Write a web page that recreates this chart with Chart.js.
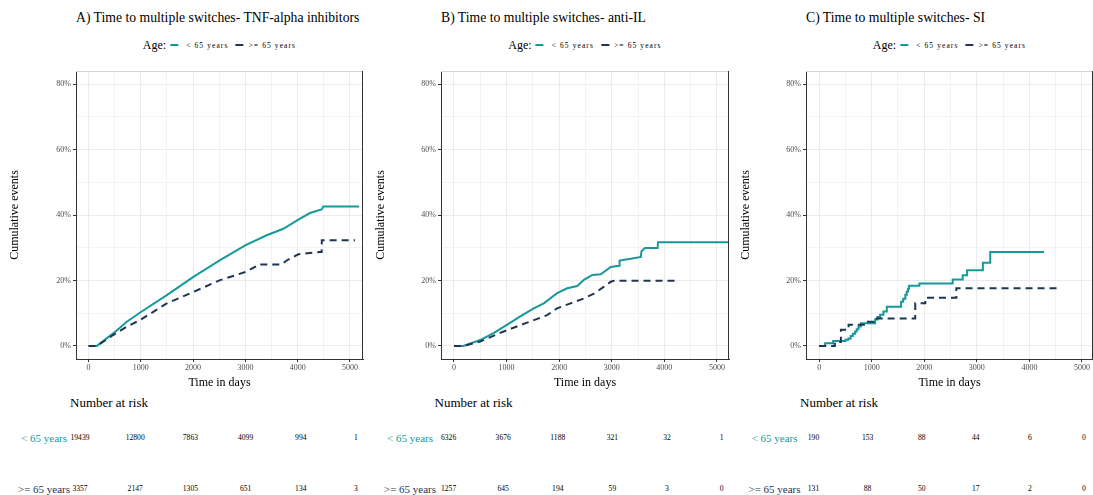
<!DOCTYPE html>
<html lang="en">
<head>
    <meta charset="UTF-8">
    <title>Time to multiple switches by age</title>
    <script src="https://cdn.jsdelivr.net/npm/chart.js"></script>
    <style>
        html, body { margin: 0; padding: 0; background: #fff; overflow: hidden; }
        body { width: 1093px; height: 495px; position: relative; font-family: "Liberation Serif", "Times New Roman", serif; color: #000; }
        canvas { position: absolute; top: 60px; }
        .txt { position: absolute; white-space: nowrap; line-height: 1; }
        .legend { position: absolute; top: 38px; height: 14px; display: flex; align-items: center; transform: translateX(-50%); white-space: nowrap; }
        .legend .age { font-size: 12px; margin-right: 4px; }
        .legend .key { width: 8px; height: 2px; margin-right: 8px; }
        .legend .lab { font-size: 7.5px; letter-spacing: 1.1px; margin-right: 7px; }
    </style>
</head>
<body>
    <canvas id="chartA" width="365" height="330" style="left:0px"></canvas>
    <canvas id="chartB" width="365" height="330" style="left:366px"></canvas>
    <canvas id="chartC" width="362" height="330" style="left:731px"></canvas>

    <script>
        // cumulative events (%), time in days
        const tnfYoungDays = [0, 160, 478, 732, 987, 1497, 2006, 2516, 3006, 3408, 3726, 4013, 4236, 4459, 4490, 5175];
        const tnfYoungPct  = [0, 0, 3.9, 7.4, 10.2, 15.5, 21.1, 26.2, 30.8, 33.8, 35.8, 38.6, 40.6, 41.7, 42.6, 42.6];
        const tnfOldDays = [0, 160, 478, 732, 987, 1497, 2006, 2516, 3006, 3217, 3250, 3694, 3790, 4013, 4427, 4459, 4462, 5096];
        const tnfOldPct  = [0, 0, 3.4, 5.9, 7.9, 13.0, 16.5, 20.1, 22.6, 24.4, 24.9, 24.9, 26.1, 28.0, 28.7, 28.7, 32.3, 32.3];

        const ilYoungDays = [0, 178, 497, 752, 1006, 1261, 1516, 1707, 1962, 2153, 2344, 2471, 2631, 2790, 2981, 3140, 3150, 3363, 3554, 3565, 3631, 3873, 3880, 5230];
        const ilYoungPct  = [0, 0, 1.8, 3.9, 6.4, 9.0, 11.5, 13.0, 16.1, 17.6, 18.3, 20.2, 21.7, 21.9, 24.1, 24.5, 26.1, 26.6, 27.2, 28.9, 29.9, 29.9, 31.7, 31.7];
        const ilOldDays = [0, 178, 497, 943, 1389, 1771, 1962, 2217, 2471, 2662, 2854, 2981, 3045, 4223];
        const ilOldPct  = [0, 0, 1.3, 4.4, 7.1, 9.4, 11.5, 13.0, 14.5, 16.0, 18.1, 19.6, 19.9, 19.9];

        const siYoungDays = [0, 114, 266, 500, 557, 600, 640, 684, 715, 748, 793, 1065, 1110, 1160, 1223, 1287, 1559, 1600, 1640, 1667, 1690, 1711, 1907, 2541, 2732, 2815, 3115, 3255, 4280];
        const siYoungPct  = [0, 0.8, 1.5, 1.9, 2.3, 3.0, 3.7, 4.4, 5.1, 5.9, 6.9, 8.1, 8.8, 9.5, 10.5, 12.0, 13.5, 14.4, 15.6, 16.6, 17.5, 18.4, 19.1, 20.3, 21.6, 23.1, 25.4, 28.7, 28.7];
        const siOldDays = [0, 299, 414, 560, 900, 1040, 1828, 2019, 2610, 4599];
        const siOldPct  = [0, 1.2, 4.9, 6.5, 7.4, 8.4, 13.0, 14.7, 17.6, 17.6];

        // number at risk
        const riskDays = [0, 1000, 2000, 3000, 4000, 5000];
        const tnfRiskYoung = [19439, 12800, 7863, 4099, 994, 1];
        const tnfRiskOld   = [3357, 2147, 1305, 651, 134, 3];
        const ilRiskYoung  = [6326, 3676, 1188, 321, 32, 1];
        const ilRiskOld    = [1257, 645, 194, 59, 3, 0];
        const siRiskYoung  = [190, 153, 88, 44, 6, 0];
        const siRiskOld    = [131, 88, 50, 17, 2, 0];

        const groupLabels = ['< 65 years', '>= 65 years'];
        const xTicks = [0, 500, 1000, 1500, 2000, 2500, 3000, 3500, 4000, 4500, 5000];
        const yTicks = [0, 10, 20, 30, 40, 50, 60, 70, 80];

        const teal = '#17999a';
        const navy = '#1f3552';

        function pts(days, pct) {
            return days.map((d, i) => ({ x: d, y: pct[i] }));
        }

        const panelFrame = {
            id: 'panelFrame',
            afterDraw(chart) {
                const a = chart.chartArea;
                const ctx = chart.ctx;
                ctx.save();
                ctx.lineWidth = 1;
                ctx.strokeStyle = '#d4d4d4';
                ctx.beginPath();
                ctx.moveTo(a.left, a.top + 0.5);
                ctx.lineTo(a.right, a.top + 0.5);
                ctx.stroke();
                ctx.strokeStyle = '#333';
                ctx.beginPath();
                ctx.moveTo(a.right - 0.5, a.top);
                ctx.lineTo(a.right - 0.5, a.bottom);
                ctx.stroke();
                ctx.restore();
            }
        };

        function makeChart(id, cfg) {
            return new Chart(document.getElementById(id), {
                type: 'line',
                data: {
                    datasets: [
                        {
                            label: groupLabels[1],
                            data: pts(cfg.oldDays, cfg.oldPct),
                            borderColor: navy,
                            borderWidth: 2,
                            borderDash: [7, 5],
                            pointRadius: 0,
                            stepped: cfg.stepped,
                            fill: false
                        },
                        {
                            label: groupLabels[0],
                            data: pts(cfg.youngDays, cfg.youngPct),
                            borderColor: teal,
                            borderWidth: 2,
                            pointRadius: 0,
                            stepped: cfg.stepped,
                            fill: false
                        }
                    ]
                },
                options: {
                    responsive: false,
                    animation: false,
                    events: [],
                    layout: { padding: { left: 0, top: 11, right: cfg.padRight, bottom: 0 } },
                    plugins: { legend: { display: false }, tooltip: { enabled: false } },
                    scales: {
                        x: {
                            type: 'linear',
                            min: cfg.xMin,
                            max: cfg.xMax,
                            afterBuildTicks: s => { s.ticks = xTicks.map(v => ({ value: v })); },
                            afterFit: s => { s.height = 31; },
                            border: { display: true, color: '#333', width: 1 },
                            grid: {
                                color: '#ebebeb',
                                lineWidth: c => (c.tick && c.tick.value % 1000 === 0 ? 1 : 0.6),
                                tickLength: 3,
                                tickColor: c => (c.tick && c.tick.value % 1000 === 0 ? '#333' : 'rgba(0,0,0,0)')
                            },
                            ticks: {
                                autoSkip: false,
                                maxRotation: 0,
                                padding: 1,
                                color: '#4d4d4d',
                                font: { family: 'Liberation Serif', size: 8 },
                                callback: v => (v % 1000 === 0 ? String(v) : '')
                            },
                            title: {
                                display: true,
                                text: 'Time in days',
                                color: '#000',
                                padding: { top: 4, bottom: 0 },
                                font: { family: 'Liberation Serif', size: 12 }
                            }
                        },
                        y: {
                            min: -4,
                            max: 84,
                            afterBuildTicks: s => { s.ticks = yTicks.map(v => ({ value: v })); },
                            afterFit: s => { s.width = cfg.yWidth; },
                            border: { display: true, color: '#333', width: 1 },
                            grid: {
                                color: '#ebebeb',
                                lineWidth: c => (c.tick && c.tick.value % 20 === 0 ? 1 : 0.6),
                                tickLength: 3,
                                tickColor: c => (c.tick && c.tick.value % 20 === 0 ? '#333' : 'rgba(0,0,0,0)')
                            },
                            ticks: {
                                autoSkip: false,
                                padding: 2,
                                color: '#4d4d4d',
                                font: { family: 'Liberation Serif', size: 8 },
                                callback: v => (v % 20 === 0 ? v + '%' : '')
                            },
                            title: {
                                display: true,
                                text: 'Cumulative events',
                                color: '#000',
                                padding: { top: 8, bottom: 0 },
                                font: { family: 'Liberation Serif', size: 12 }
                            }
                        }
                    }
                },
                plugins: [panelFrame]
            });
        }

        makeChart('chartA', {
            youngDays: tnfYoungDays, youngPct: tnfYoungPct, oldDays: tnfOldDays, oldPct: tnfOldPct,
            stepped: false, xMin: -240, xMax: 5250, yWidth: 76, padRight: 2
        });
        makeChart('chartB', {
            youngDays: ilYoungDays, youngPct: ilYoungPct, oldDays: ilOldDays, oldPct: ilOldPct,
            stepped: false, xMin: -247, xMax: 5230, yWidth: 75, padRight: 2
        });
        makeChart('chartC', {
            youngDays: siYoungDays, youngPct: siYoungPct, oldDays: siOldDays, oldPct: siOldPct,
            stepped: true, xMin: -250, xMax: 5210, yWidth: 75, padRight: 0
        });

        // text around the plots
        function addText(text, x, y, style, align) {
            const d = document.createElement('div');
            d.className = 'txt';
            d.textContent = text;
            Object.assign(d.style, style || {});
            d.style.left = x + 'px';
            d.style.top = y + 'px';
            const tx = align === 'left' ? '0' : (align === 'right' ? '-100%' : '-50%');
            d.style.transform = 'translate(' + tx + ', -50%)';
            document.body.appendChild(d);
            return d;
        }

        function addLegend(cx) {
            const lg = document.createElement('div');
            lg.className = 'legend';
            lg.style.left = cx + 'px';
            lg.innerHTML =
                '<span class="age">Age:</span>' +
                '<span class="key" style="background:' + teal + '"></span>' +
                '<span class="lab">' + groupLabels[0].replace('<', '&lt;') + '</span>' +
                '<span class="key" style="background:' + navy + ';margin-right:5px"></span>' +
                '<span class="lab" style="margin-right:0">' + groupLabels[1].replace('>', '&gt;') + '</span>';
            document.body.appendChild(lg);
        }

        const panels = [
            { title: 'A) Time to multiple switches- TNF-alpha inhibitors', left: 76, right: 363,
              riskHead: 70, rowLabel: 44, r0: 80, r5: 356, young: tnfRiskYoung, old: tnfRiskOld },
            { title: 'B) Time to multiple switches- anti-IL', left: 441, right: 729,
              riskHead: 434.5, rowLabel: 410, r0: 448.6, r5: 721.6, young: ilRiskYoung, old: ilRiskOld },
            { title: 'C) Time to multiple switches- SI', left: 806, right: 1093,
              riskHead: 800, rowLabel: 774.5, r0: 813.5, r5: 1084, young: siRiskYoung, old: siRiskOld }
        ];

        panels.forEach(p => {
            addText(p.title, p.left, 18, { fontSize: '13.7px' }, 'left');
            addLegend((p.left + p.right) / 2);
            addText('Number at risk', p.riskHead, 402, { fontSize: '13px' }, 'left');
            addText(groupLabels[0], p.rowLabel, 438, { fontSize: '11px', color: teal }, 'center');
            addText(groupLabels[1], p.rowLabel, 489, { fontSize: '11px', color: navy }, 'center');
            riskDays.forEach((d, i) => {
                const x = p.r0 + (p.r5 - p.r0) * d / 5000;
                addText(String(p.young[i]), x, 438, { fontSize: '7.6px' }, 'center');
                addText(String(p.old[i]), x, 489, { fontSize: '7.6px' }, 'center');
            });
        });
    </script>
</body>
</html>
